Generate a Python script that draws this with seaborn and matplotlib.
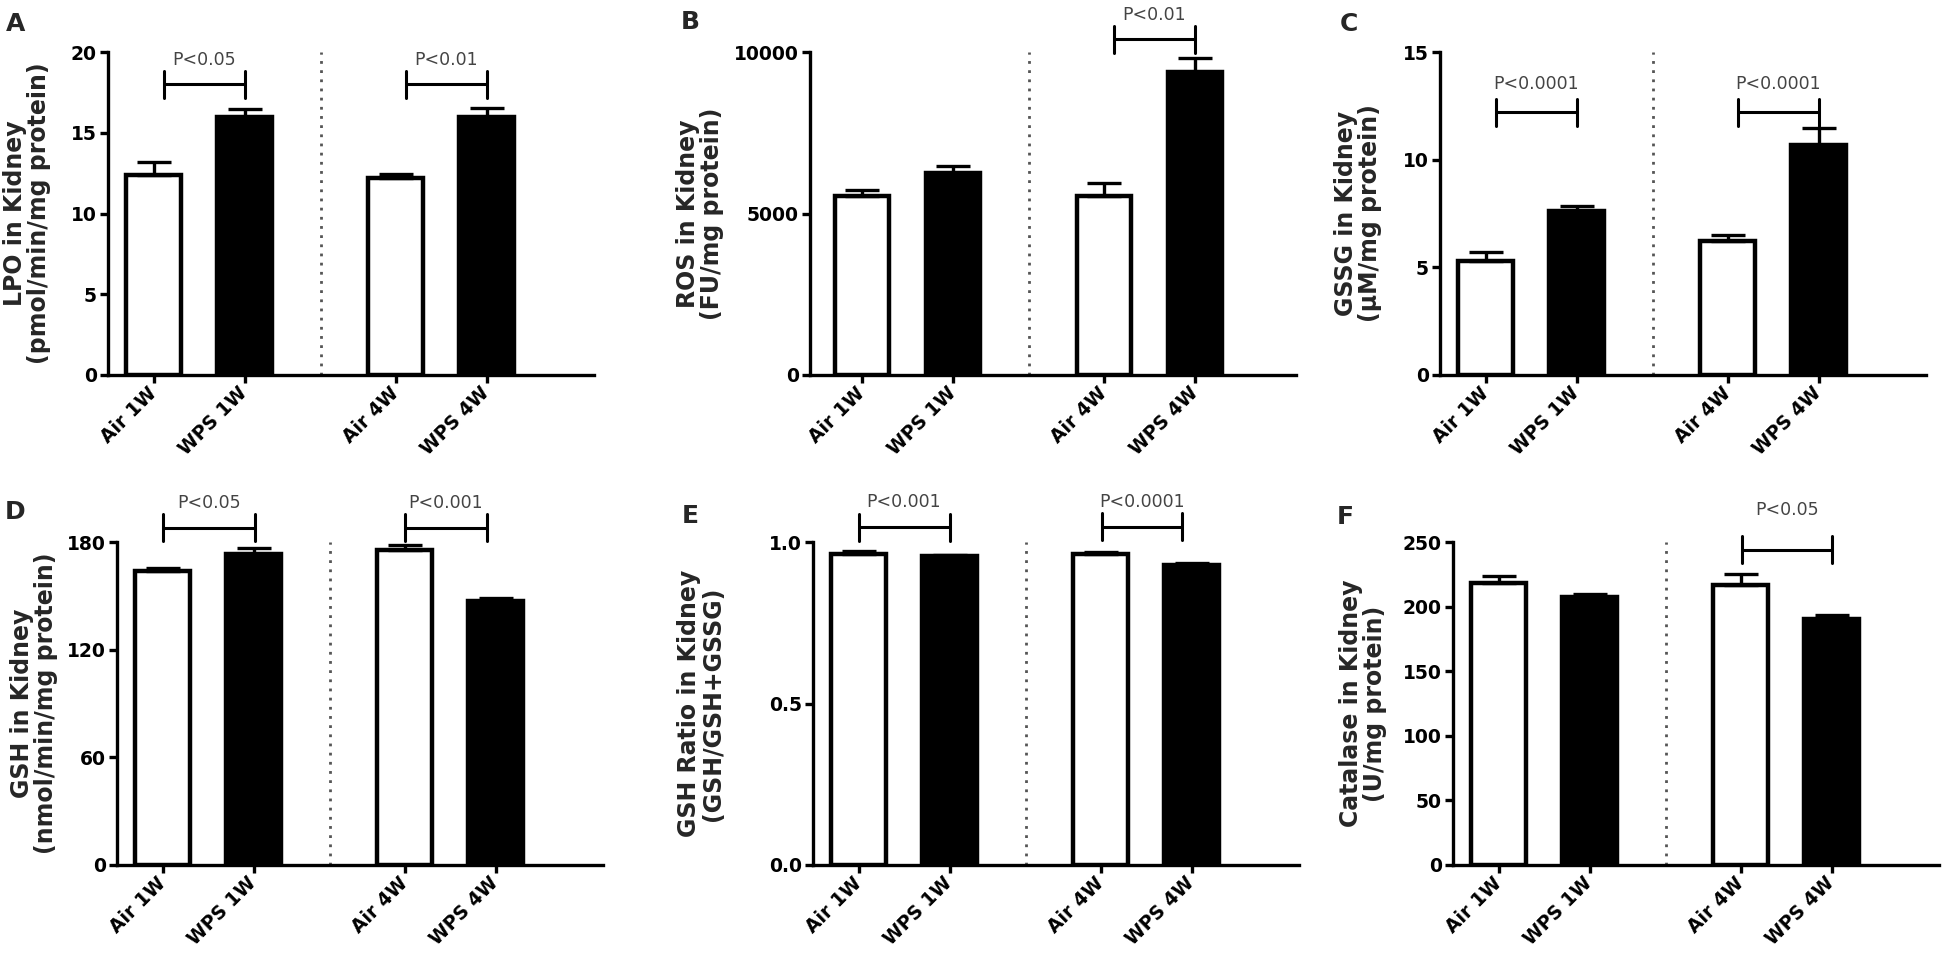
import numpy as np
import pandas as pd
import matplotlib
matplotlib.use("Agg")
import matplotlib.pyplot as plt
import seaborn as sns

# ---------------- data ----------------
groups = ["Air 1W", "WPS 1W", "Air 4W", "WPS 4W"]
exposure = ["Air", "WPS", "Air", "WPS"]

lpo_mean = [12.4, 16.0, 12.2, 16.0]
lpo_sem = [0.8, 0.45, 0.25, 0.55]
ros_mean = [5530, 6260, 5530, 9370]
ros_sem = [190, 220, 410, 440]
gssg_mean = [5.3, 7.6, 6.2, 10.7]
gssg_sem = [0.43, 0.25, 0.31, 0.77]
gsh_mean = [163.7, 173.5, 175.7, 147.3]
gsh_sem = [1.9, 3.1, 2.4, 1.5]
ratio_mean = [0.962, 0.956, 0.962, 0.930]
ratio_sem = [0.010, 0.004, 0.007, 0.006]
cat_mean = [218.3, 207.4, 217.0, 190.7]
cat_sem = [5.2, 2.1, 8.3, 2.9]

letters = ["A", "B", "C", "D", "E", "F"]
ylabels = [
    "LPO in Kidney\n(pmol/min/mg protein)",
    "ROS in Kidney\n(FU/mg protein)",
    "GSSG in Kidney\n(\u00b5M/mg protein)",
    "GSH in Kidney\n(nmol/min/mg protein)",
    "GSH Ratio in Kidney\n(GSH/GSH+GSSG)",
    "Catalase in Kidney\n(U/mg protein)",
]
yticks = [
    [0, 5, 10, 15, 20],
    [0, 5000, 10000],
    [0, 5, 10, 15],
    [0, 60, 120, 180],
    [0.0, 0.5, 1.0],
    [0, 50, 100, 150, 200, 250],
]
ytick_labels = [
    ["0", "5", "10", "15", "20"],
    ["0", "5000", "10000"],
    ["0", "5", "10", "15"],
    ["0", "60", "120", "180"],
    ["0.0", "0.5", "1.0"],
    ["0", "50", "100", "150", "200", "250"],
]
# significance annotations: (left group, right group, bracket y, text y, label)
annotations = [
    [(0, 1, 18.0, 19.5, "P<0.05"), (2, 3, 18.0, 19.5, "P<0.01")],
    [(2, 3, 10400, 11150, "P<0.01")],
    [(0, 1, 12.2, 13.5, "P<0.0001"), (2, 3, 12.2, 13.5, "P<0.0001")],
    [(0, 1, 188, 202, "P<0.05"), (2, 3, 188, 202, "P<0.001")],
    [(0, 1, 1.045, 1.125, "P<0.001"), (2, 3, 1.047, 1.125, "P<0.0001")],
    [(2, 3, 244, 275, "P<0.05")],
]
means = [lpo_mean, ros_mean, gssg_mean, gsh_mean, ratio_mean, cat_mean]
sems = [lpo_sem, ros_sem, gssg_sem, gsh_sem, ratio_sem, cat_sem]

# ---------------- layout / style ----------------
bar_pos = [0, 1, 2.66, 3.66]
sep_x = 1.84
bracket_shift = [
    [(0.12, 0.0), (0.12, 0.0)],
    [(0.11, 0.0)],
    [(0.11, 0.0), (0.12, 0.0)],
    [(0.0, 0.02), (0.0, -0.09)],
    [(0.0, 0.0), (0.02, -0.1)],
    [(0.02, 0.0)],
]

W, H = 1950, 956
sns.set_style("ticks")
plt.rcParams["font.family"] = ["DejaVu Sans"]

fig = plt.figure(figsize=(W / 100, H / 100), dpi=100)

ax_left_px = [108, 810, 1440, 117, 813, 1453]
xlim_left = [-0.5, -0.57, -0.5, -0.5, -0.5, -0.5]
ax_top_px = [52, 52, 52, 542, 542, 542]
ax_bot_px = [375, 375, 375, 865, 865, 865]
ax_w_px = 486
letter_px = [(6, 12), (681, 10), (1340, 12), (5, 500), (682, 504), (1337, 505)]
ylabel_cx = [27, 700, 1358, 34, 701, 1363]

palette = {"Air": "white", "WPS": "black"}

for k in range(6):
    l = ax_left_px[k] / W
    b = 1 - ax_bot_px[k] / H
    h = (ax_bot_px[k] - ax_top_px[k]) / H
    ax = fig.add_axes([l, b, ax_w_px / W, h])

    df = pd.DataFrame({"pos": bar_pos, "value": means[k], "exposure": exposure})
    sns.barplot(data=df, x="pos", y="value", hue="exposure", palette=palette,
                native_scale=True, dodge=False, width=0.6, edgecolor="black",
                linewidth=3.2, errorbar=None, legend=False, saturation=1, ax=ax)
    ax.errorbar(bar_pos, means[k], yerr=[np.zeros(4), sems[k]], fmt="none",
                ecolor="black", elinewidth=2.4, capsize=12, capthick=2.4, zorder=5)

    ymax = yticks[k][-1]
    ax.set_xlim(xlim_left[k], xlim_left[k] + ax_w_px / 91.0)
    ax.set_ylim(0, ymax)
    ax.axvline(sep_x, color="#555555", lw=2.0, ls=(0, (1, 2.3)), zorder=1)

    ax.set_xticks(bar_pos)
    ax.set_xticklabels(groups, rotation=45, ha="right", va="center",
                       rotation_mode="anchor", fontsize=13.5, fontweight="bold")
    ax.set_yticks(yticks[k])
    ax.set_yticklabels(ytick_labels[k], fontsize=13.5, fontweight="bold")
    ax.set_xlabel("")
    ax.set_ylabel("")
    sns.despine(ax=ax)
    for s in ("left", "bottom"):
        ax.spines[s].set_linewidth(2.4)
        ax.spines[s].set_color("black")
    ax.tick_params(axis="y", direction="out", length=6, width=2.4, pad=2, colors="black")
    ax.tick_params(axis="x", direction="out", length=6, width=2.4, pad=5, colors="black")

    d = 0.042 * ymax
    for (i, j, by, ty, lab), (sl, sr) in zip(annotations[k], bracket_shift[k]):
        x1 = bar_pos[i] + sl
        x2 = bar_pos[j] + sr
        ax.plot([x1, x2], [by, by], color="black", lw=2.2, clip_on=False,
                solid_capstyle="butt")
        ax.plot([x1, x1], [by - d, by + d], color="black", lw=2.2, clip_on=False)
        ax.plot([x2, x2], [by - d, by + d], color="black", lw=2.2, clip_on=False)
        ax.text((x1 + x2) / 2, ty, lab, ha="center", va="center", fontsize=12.5,
                color="#444444", clip_on=False)

    cy = 1 - (ax_top_px[k] + ax_bot_px[k]) / 2 / H
    fig.text(ylabel_cx[k] / W, cy, ylabels[k], rotation=90, ha="center",
             va="center", multialignment="center", fontsize=17,
             fontweight="bold", linespacing=1.0)
    fig.text(letter_px[k][0] / W, 1 - letter_px[k][1] / H, letters[k],
             ha="left", va="top", fontsize=18, fontweight="bold")

fig.savefig("out.png", dpi=100)
